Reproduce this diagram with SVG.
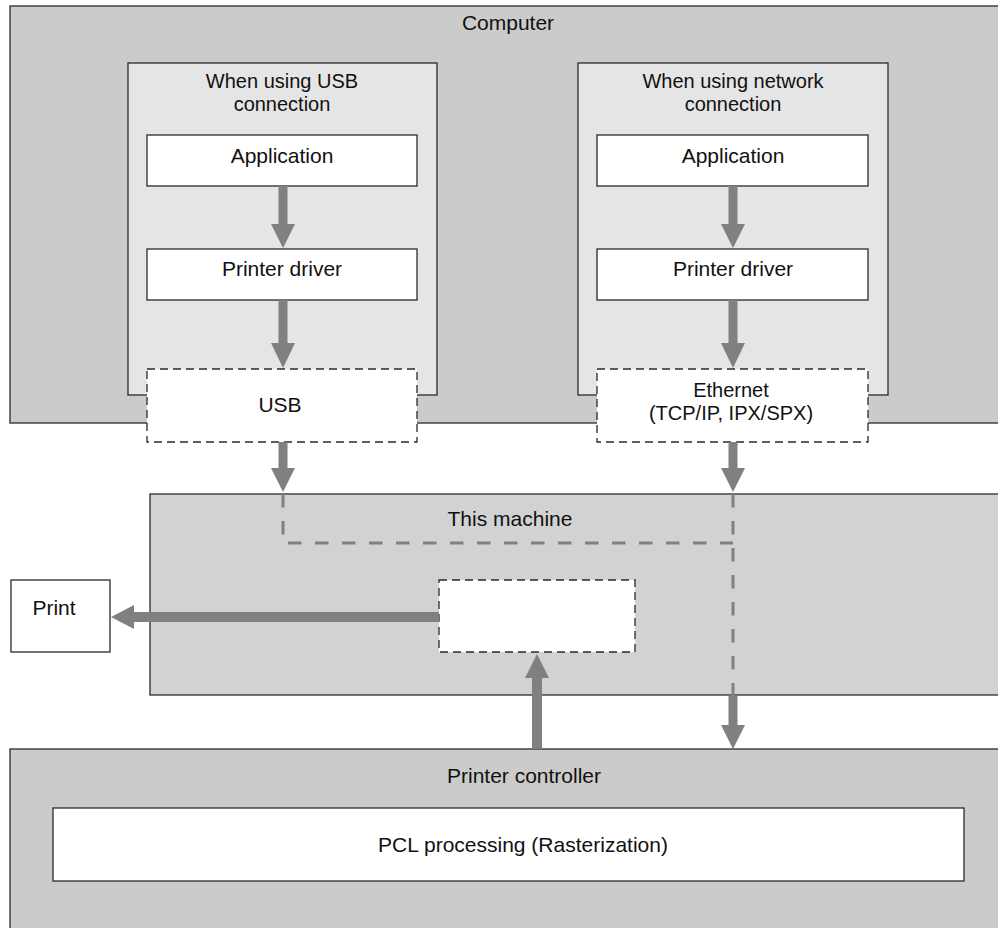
<svg xmlns="http://www.w3.org/2000/svg" width="998" height="928" viewBox="0 0 998 928">
<style>
text{font-family:"Liberation Sans",Arial,Helvetica,sans-serif;font-size:21px;fill:#111;text-anchor:middle}
text.two{font-size:20px}
.outer{fill:#cbcbcb;stroke:#2a2a2a;stroke-width:1.3}
.mach{fill:#d1d2d4;stroke:#2a2a2a;stroke-width:1.3}
.inner{fill:#e5e5e5;stroke:#2a2a2a;stroke-width:1.3}
.box{fill:#fff;stroke:#2a2a2a;stroke-width:1.3}
.dash{fill:#fff;stroke:#2a2a2a;stroke-width:1.3;stroke-dasharray:8 5}
.arr{fill:#808080}
.gl{fill:none;stroke:#808080;stroke-width:3;stroke-dasharray:13.5 13.5}
</style>
<g id="computer">
<rect class="outer" x="10" y="6" width="1000" height="417"/>
<text x="508" y="30">Computer</text>
</g>
<g id="usb-group">
<rect class="inner" x="128" y="63" width="309" height="332"/>
<text class="two" x="282" y="88">When using USB</text>
<text class="two" x="282" y="111">connection</text>
</g>
<g id="net-group">
<rect class="inner" x="578" y="63" width="310" height="332"/>
<text class="two" x="733" y="88">When using network</text>
<text class="two" x="733" y="111">connection</text>
</g>
<g id="usb-app">
<rect class="box" x="147" y="135" width="270" height="51"/>
<text x="282" y="163">Application</text>
</g>
<g id="usb-driver">
<rect class="box" x="147" y="249" width="270" height="51"/>
<text x="282" y="276">Printer driver</text>
</g>
<g id="net-app">
<rect class="box" x="597" y="135" width="271" height="51"/>
<text x="733" y="163">Application</text>
</g>
<g id="net-driver">
<rect class="box" x="597" y="249" width="271" height="51"/>
<text x="733" y="276">Printer driver</text>
</g>
<g id="usb">
<rect class="dash" x="147" y="369" width="270" height="73"/>
<text x="280" y="412">USB</text>
</g>
<g id="ethernet">
<rect class="dash" x="597" y="369" width="271" height="73"/>
<text class="two" x="731" y="397">Ethernet</text>
<text class="two" x="731" y="420">(TCP/IP, IPX/SPX)</text>
</g>
<g id="this-machine">
<rect class="mach" x="150" y="494" width="860" height="201"/>
<text x="510" y="526">This machine</text>
</g>
<g id="engine">
<rect class="dash" x="439" y="580" width="196" height="72"/>
</g>
<g id="print">
<rect class="box" x="11" y="580" width="99" height="72"/>
<text x="54" y="615">Print</text>
</g>
<g id="printer-controller">
<rect class="outer" x="10" y="749" width="1000" height="190"/>
<text x="524" y="783">Printer controller</text>
</g>
<g id="pcl">
<rect class="box" x="53" y="808" width="911" height="73"/>
<text x="523" y="852">PCL processing (Rasterization)</text>
</g>
<g id="connectors">
<path class="gl" d="M283 494V543H733"/>
<path class="gl" d="M733 494V697"/>
<polygon class="arr" points="278.5,186 287.5,186 287.5,224 295,224 283,248 271,224 278.5,224"/>
<polygon class="arr" points="278.5,300 287.5,300 287.5,343 295,343 283,368 271,343 278.5,343"/>
<polygon class="arr" points="728.5,186 737.5,186 737.5,224 745,224 733,248 721,224 728.5,224"/>
<polygon class="arr" points="728.5,300 737.5,300 737.5,343 745,343 733,368 721,343 728.5,343"/>
<polygon class="arr" points="278.5,442 287.5,442 287.5,468 295,468 283,492 271,468 278.5,468"/>
<polygon class="arr" points="728.5,442 737.5,442 737.5,468 745,468 733,492 721,468 728.5,468"/>
<polygon class="arr" points="728.5,696 737.5,696 737.5,725 745,725 733,749 721,725 728.5,725"/>
<polygon class="arr" points="532,749 542,749 542,678 549,678 537,654 525,678 532,678"/>
<polygon class="arr" points="439,612 439,622 134,622 134,629 111,617 134,605 134,612"/>
</g>
</svg>
